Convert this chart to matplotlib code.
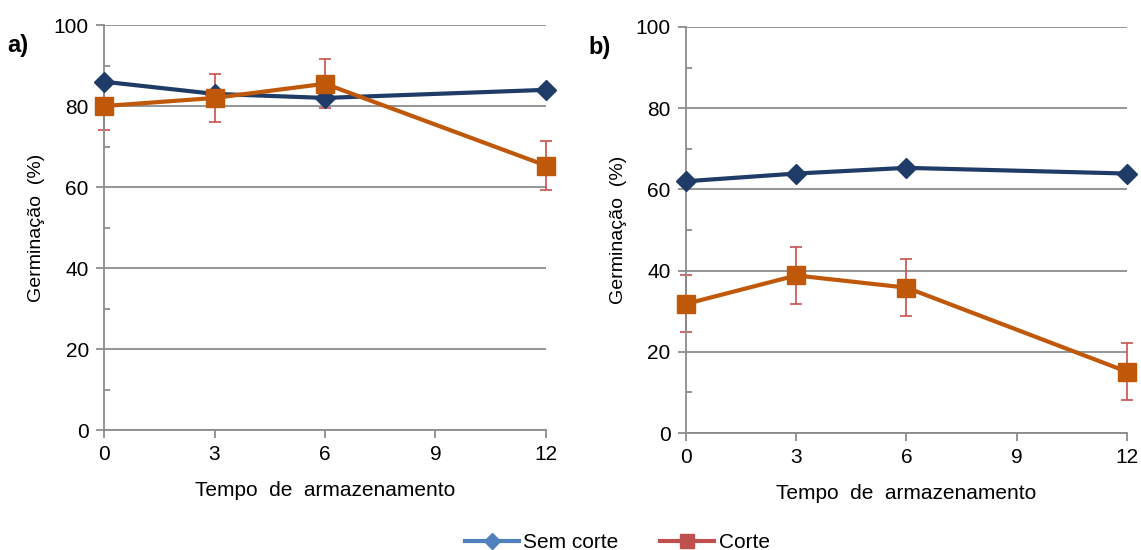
import sys

import matplotlib
matplotlib.use("Agg")
import matplotlib.pyplot as plt
from matplotlib.lines import Line2D
from matplotlib.ticker import MultipleLocator

MESES = [0, 3, 6, 12]

# painel a)
SEM_CORTE_A = [86, 83, 82, 84]
CORTE_A = [80, 82, 85.5, 65.3]
ERRO_A = [6, 6, 6, 6]

# painel b)
SEM_CORTE_B = [62, 63.9, 65.3, 63.9]
CORTE_B = [31.8, 38.8, 35.8, 15.1]
ERRO_B = [7, 7, 7, 7]

X_TICKS = [0, 3, 6, 9, 12]
Y_TICKS = [0, 20, 40, 60, 80, 100]

AZUL = "#1F3B67"
LARANJA = "#C0580A"
ERRO_COR = "#C8504D"
CINZA = "#8C8C8C"


def desenha(ax, sem, corte, erro, letra):
    ax.errorbar(MESES, corte, yerr=erro, fmt="none", ecolor=ERRO_COR,
                elinewidth=1.2, capsize=4, capthick=1.2, zorder=2, clip_on=False)
    ax.plot(MESES, sem, color=AZUL, lw=3, marker="D", markersize=10,
            zorder=3, clip_on=False)
    ax.plot(MESES, corte, color=LARANJA, lw=3, marker="s", markersize=13,
            zorder=4, clip_on=False)

    ax.set_xlim(0, 12)
    ax.set_ylim(0, 100)
    ax.set_xticks(X_TICKS)
    ax.set_yticks(Y_TICKS)
    ax.yaxis.set_minor_locator(MultipleLocator(10))
    ax.tick_params(axis="both", which="major", direction="out", length=6,
                   width=1.3, color=CINZA, labelsize=15, pad=5)
    ax.tick_params(axis="y", which="minor", direction="in", length=4,
                   width=1.3, color=CINZA)
    ax.grid(axis="y", which="major", color=CINZA, lw=1.3)
    ax.set_axisbelow(True)
    for s in ["top", "right"]:
        ax.spines[s].set_visible(False)
    for s in ["left", "bottom"]:
        ax.spines[s].set_color(CINZA)
        ax.spines[s].set_linewidth(1.3)
    ax.set_xlabel("Tempo  de  armazenamento", fontsize=15, labelpad=12)
    ax.set_ylabel("Germinação  (%)", fontsize=14, labelpad=6)
    ax.text(-0.22, 0.95, letra, transform=ax.transAxes, fontsize=17,
            fontweight="bold", ha="left", va="center")


def main() -> int:
    plt.rcParams["font.family"] = ["Liberation Sans", "DejaVu Sans"]
    fig = plt.figure(figsize=(11.41, 5.5), dpi=100)
    ax_a = fig.add_axes([0.0912, 0.218, 0.3873, 0.7365])
    ax_b = fig.add_axes([0.6012, 0.2127, 0.3865, 0.7383])

    desenha(ax_a, SEM_CORTE_A, CORTE_A, ERRO_A, "a)")
    desenha(ax_b, SEM_CORTE_B, CORTE_B, ERRO_B, "b)")

    handles = [
        Line2D([], [], color="#4F81BD", lw=3, marker="D", markersize=8),
        Line2D([], [], color="#C0504D", lw=3, marker="s", markersize=10),
    ]
    fig.legend(handles, ["Sem corte", "Corte"], loc="center",
               bbox_to_anchor=(0.541, 0.014), ncol=2, frameon=False,
               fontsize=15, handlelength=2.6, handletextpad=0.2,
               columnspacing=2.0)

    fig.savefig("out.png", dpi=100)
    return 0


if __name__ == "__main__":
    sys.exit(main())
